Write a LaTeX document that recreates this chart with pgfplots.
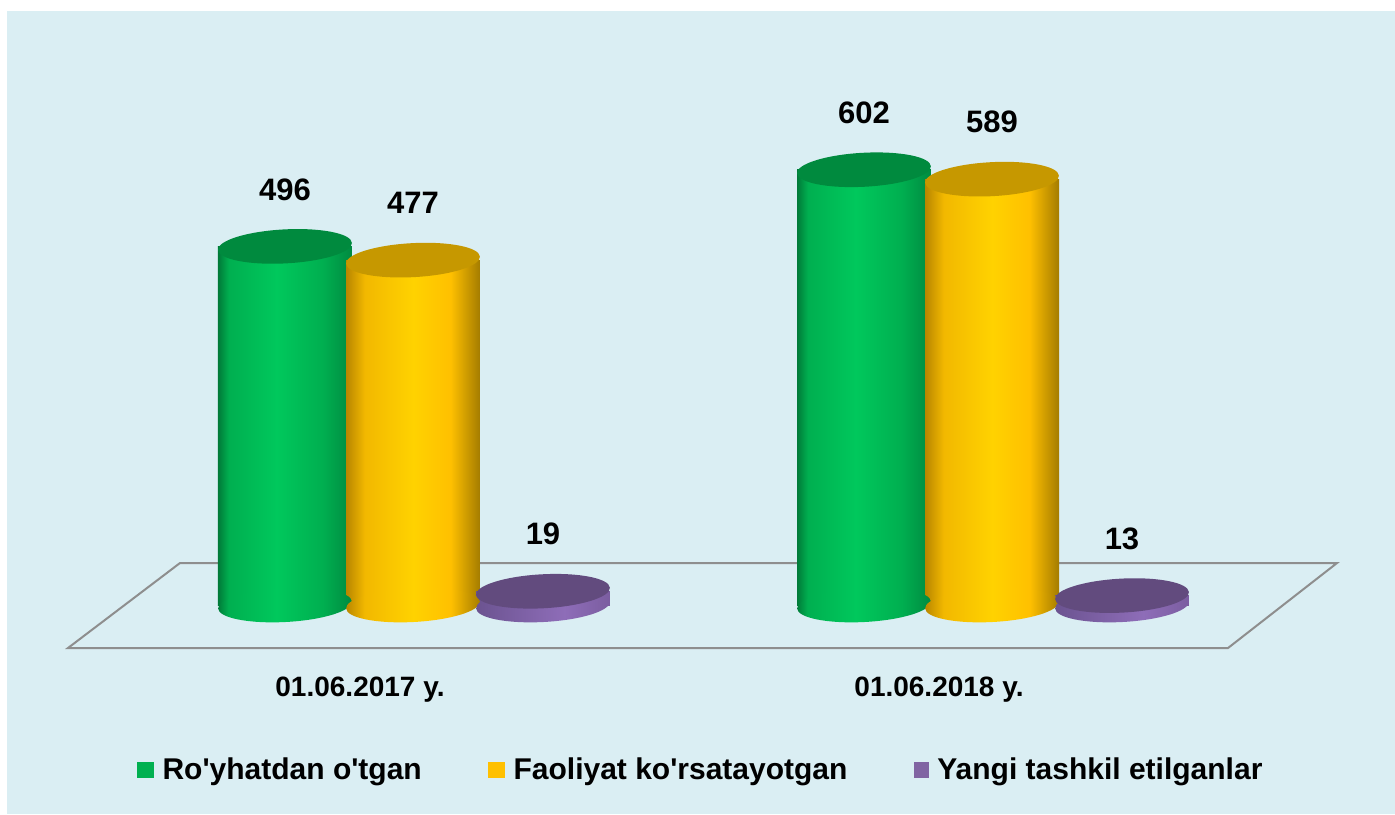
\documentclass[border=0pt]{standalone}
\usepackage{pgfplots}
\pgfplotsset{compat=1.18}
\usepackage{pgfplotstable}
\usepackage{fontspec}
\setmainfont{Liberation Sans}[Ligatures=TeXOff]

\definecolor{bgblue}{HTML}{DAEEF3}
\definecolor{floorgray}{HTML}{8E8E8E}
% green
\definecolor{gA}{HTML}{007A38}
\definecolor{gB}{HTML}{00AF50}
\definecolor{gC}{HTML}{00C85C}
\definecolor{gD}{HTML}{008A40}
\definecolor{gtopc}{HTML}{008A3E}
\definecolor{lgreen}{HTML}{00B050}
% yellow
\definecolor{yA}{HTML}{B88600}
\definecolor{yB}{HTML}{F2B800}
\definecolor{yC}{HTML}{FFD200}
\definecolor{yE}{HTML}{FFC000}
\definecolor{yD}{HTML}{A47C00}
\definecolor{ytopc}{HTML}{C69800}
\definecolor{lyellow}{HTML}{FFC000}
% purple
\definecolor{pA}{HTML}{6B5390}
\definecolor{pC}{HTML}{8E6DB8}
\definecolor{pD}{HTML}{7B5DA0}
\definecolor{ptopc}{HTML}{624B7E}
\definecolor{lpurple}{HTML}{8064A2}

\pgfdeclarehorizontalshading{greencyl}{100bp}{color(0bp)=(gA); color(25bp)=(gA); color(29bp)=(gB); color(47bp)=(gC); color(64bp)=(gB); color(75bp)=(gD); color(100bp)=(gD)}
\pgfdeclarehorizontalshading{yellowcyl}{100bp}{color(0bp)=(yA); color(25bp)=(yA); color(32bp)=(yB); color(50bp)=(yC); color(64bp)=(yE); color(75bp)=(yD); color(100bp)=(yD)}
\pgfdeclarehorizontalshading{purplecyl}{100bp}{color(0bp)=(pA); color(25bp)=(pA); color(58bp)=(pC); color(75bp)=(pD); color(100bp)=(pD)}

\newcommand\cylellipse{\pgftransformrotate{3}\pgfpathellipse{\pgfpointorigin}{\pgfpoint{33.5pt}{0pt}}{\pgfpoint{0pt}{8.5pt}}}
\pgfdeclareplotmark{gtop}{\pgfsetfillcolor{gtopc}\cylellipse\pgfusepath{fill}}
\pgfdeclareplotmark{gbot}{\cylellipse\pgfshadepath{greencyl}{0}\pgfusepath{discard}}
\pgfdeclareplotmark{ytop}{\pgfsetfillcolor{ytopc}\cylellipse\pgfusepath{fill}}
\pgfdeclareplotmark{ybot}{\cylellipse\pgfshadepath{yellowcyl}{0}\pgfusepath{discard}}
\pgfdeclareplotmark{ptop}{\pgfsetfillcolor{ptopc}\cylellipse\pgfusepath{fill}}
\pgfdeclareplotmark{pbot}{\cylellipse\pgfshadepath{purplecyl}{0}\pgfusepath{discard}}

\pgfplotstableread{
x green yellow purple
0 496 477 19
}\groupA
\pgfplotstableread{
x green yellow purple
1 602 589 13
}\groupB

\pgfplotsset{
  gbody/.style={forget plot, ybar, bar width=0.2314, bar shift=-0.2211, draw=none, shade, shading=greencyl},
  ybody/.style={forget plot, ybar, bar width=0.2314, bar shift=0, draw=none, shade, shading=yellowcyl},
  pbody/.style={forget plot, ybar, bar width=0.2314, bar shift=0.2245, draw=none, shade, shading=purplecyl},
}

\begin{document}
\begin{tikzpicture}
\path[use as bounding box] (0,0) rectangle (697.5pt,407pt);
\fill[white] (0,0) rectangle (697.5pt,407pt);
\fill[bgblue] (3.5pt,0) rectangle (697.5pt,401.5pt);
\begin{axis}[
  at={(0,0)}, anchor=south west,
  scale only axis, width=697.5pt, height=407pt,
  xmin=-0.71330, xmax=1.69603, ymin=-289.07, ymax=836.79,
  hide axis, clip=false,
  /pgf/number format/assume math mode=true,
  nodes near coords style={font=\bfseries\fontsize{15.5}{18}\selectfont, anchor=center, yshift=28.5pt, text=black},
  legend columns=3,
  legend style={at={(axis description cs:0.5015,0.054)}, anchor=center,
    draw=none, fill=none, font=\bfseries\fontsize{15}{18}\selectfont,
    column sep=4.5pt,
    /tikz/every even column/.append style={column sep=33pt},
    nodes={inner xsep=0pt, inner ysep=2pt}},
]
% floor plane
\addplot[forget plot, draw=floorgray, line width=1pt, line join=miter] coordinates
  {(-0.4024,58.1) (1.5959,58.1) (1.4076,-59.5) (-0.5959,-59.5) (-0.4024,58.1) (1.5959,58.1)};

% green series
\addplot[forget plot, only marks, mark=gbot] table[x expr=\thisrow{x}-0.2211, y expr=0]{\groupA};
\addplot[forget plot, only marks, mark=gbot] table[x expr=\thisrow{x}-0.2211, y expr=0]{\groupB};
\addplot[gbody] table[x=x, y=green]{\groupA};
\addplot[gbody] table[x=x, y=green]{\groupB};
\addplot[forget plot, only marks, mark=gtop, nodes near coords] table[x expr=\thisrow{x}-0.2211, y=green]{\groupA};
\addplot[forget plot, only marks, mark=gtop, nodes near coords] table[x expr=\thisrow{x}-0.2211, y=green]{\groupB};
% yellow series
\addplot[forget plot, only marks, mark=ybot] table[x=x, y expr=0]{\groupA};
\addplot[forget plot, only marks, mark=ybot] table[x=x, y expr=0]{\groupB};
\addplot[ybody] table[x=x, y=yellow]{\groupA};
\addplot[ybody] table[x=x, y=yellow]{\groupB};
\addplot[forget plot, only marks, mark=ytop, nodes near coords] table[x=x, y=yellow]{\groupA};
\addplot[forget plot, only marks, mark=ytop, nodes near coords] table[x=x, y=yellow]{\groupB};
% purple series
\addplot[forget plot, only marks, mark=pbot] table[x expr=\thisrow{x}+0.2245, y expr=0]{\groupA};
\addplot[forget plot, only marks, mark=pbot] table[x expr=\thisrow{x}+0.2245, y expr=0]{\groupB};
\addplot[pbody] table[x=x, y=purple]{\groupA};
\addplot[pbody] table[x=x, y=purple]{\groupB};
\addplot[forget plot, only marks, mark=ptop, nodes near coords] table[x expr=\thisrow{x}+0.2245, y=purple]{\groupA};
\addplot[forget plot, only marks, mark=ptop, nodes near coords] table[x expr=\thisrow{x}+0.2245, y=purple]{\groupB};

% legend
\addlegendimage{legend image code/.code={\fill[lgreen] (0pt,-3.75pt) rectangle (8pt,3.75pt);}}
\addlegendentry{Ro'yhatdan o'tgan}
\addlegendimage{legend image code/.code={\fill[lyellow] (0pt,-3.75pt) rectangle (8pt,3.75pt);}}
\addlegendentry{Faoliyat ko'rsatayotgan}
\addlegendimage{legend image code/.code={\fill[lpurple] (0pt,-3.75pt) rectangle (7pt,3.75pt);}}
\addlegendentry{Yangi tashkil etilganlar}

% category labels
\node[font=\bfseries\fontsize{14}{16}\selectfont] at (axis cs:-0.0915,-117.6) {01.06.2017 y.};
\node[font=\bfseries\fontsize{14}{16}\selectfont] at (axis cs:0.9085,-117.6) {01.06.2018 y.};
\end{axis}
\end{tikzpicture}
\end{document}
